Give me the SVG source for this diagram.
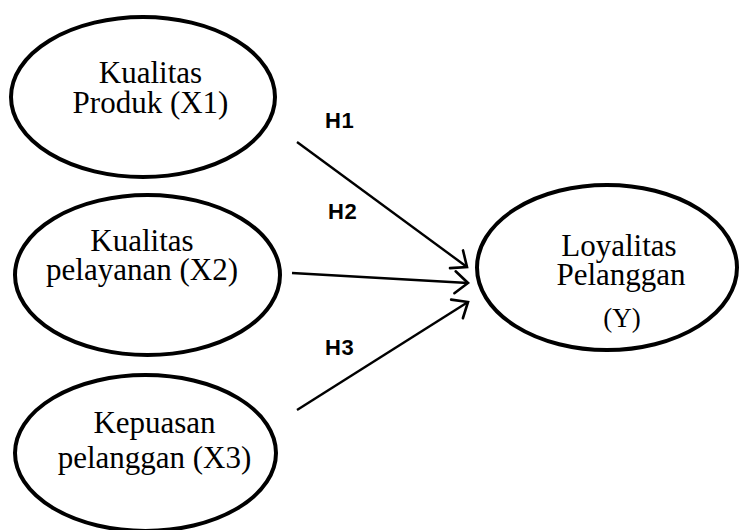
<svg xmlns="http://www.w3.org/2000/svg" width="741" height="530" viewBox="0 0 741 530">
<style>
.node ellipse{fill:#fff;stroke:#000;stroke-width:4}
.lbl{font-family:"Liberation Serif","Times New Roman",serif;font-size:31px;fill:#000;text-anchor:middle}
.h{font-family:"Liberation Sans",Arial,sans-serif;font-size:22px;font-weight:bold;fill:#000;letter-spacing:0.5px}
.conn line{stroke:#000;stroke-width:2.4;fill:none}
</style>
<defs>
<marker id="arr" markerUnits="userSpaceOnUse" markerWidth="20" markerHeight="26" viewBox="0 0 20 26" refX="17" refY="13" orient="auto">
<path d="M4,2 L17,13 L4,24" fill="none" stroke="#000" stroke-width="2.6" stroke-linecap="round" stroke-linejoin="miter"/>
</marker>
</defs>
<rect width="741" height="530" fill="#fff"/>
<g id="x1" class="node">
<ellipse cx="143" cy="97" rx="132" ry="80"/>
<text class="lbl" x="150.5" y="83">Kualitas</text>
<text class="lbl" x="150.5" y="113">Produk (X1)</text>
</g>
<g id="x2" class="node">
<ellipse cx="147.5" cy="275" rx="132.5" ry="80"/>
<text class="lbl" x="142" y="251">Kualitas</text>
<text class="lbl" x="142" y="280">pelayanan (X2)</text>
</g>
<g id="x3" class="node">
<ellipse cx="145.5" cy="453" rx="130.5" ry="78"/>
<text class="lbl" x="154.5" y="433">Kepuasan</text>
<text class="lbl" x="154.5" y="468">pelanggan (X3)</text>
</g>
<g id="y" class="node">
<ellipse cx="607" cy="267.5" rx="130" ry="82.5"/>
<text class="lbl" x="619" y="256">Loyalitas</text>
<text class="lbl" x="621" y="285">Pelanggan</text>
<text class="lbl" x="622" y="327" style="font-size:27px">(Y)</text>
</g>
<g id="connectors" class="conn">
<line x1="297" y1="142" x2="467" y2="267" marker-end="url(#arr)"/>
<line x1="292" y1="273" x2="468" y2="283" marker-end="url(#arr)"/>
<line x1="297" y1="410" x2="468" y2="302" marker-end="url(#arr)"/>
</g>
<g id="labels">
<text class="h" x="325" y="128">H1</text>
<text class="h" x="328" y="219">H2</text>
<text class="h" x="325" y="355">H3</text>
</g>
</svg>
